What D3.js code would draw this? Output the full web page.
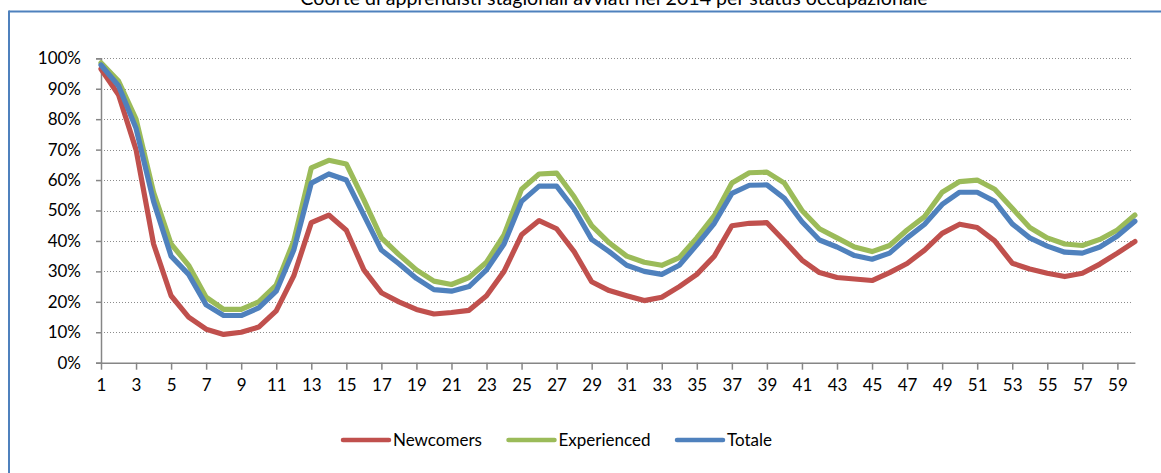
<!DOCTYPE html>
<html>
<head>
<meta charset="utf-8">
<script src="https://cdn.jsdelivr.net/npm/d3@7"></script>
<style>
  html, body { margin: 0; padding: 0; background: #fff; }
  svg { display: block; font-family: Lato, "Open Sans", sans-serif; }
</style>
</head>
<body>
<svg id="chart" width="1161" height="473"></svg>
<script>
// Months since start (1..60)
const months = d3.range(1, 61);

// Share of the cohort employed, in percent
const newcomers = [
  96.5, 88, 70, 39, 22, 15, 11, 9.3, 10, 11.7,
  17, 28.5, 46, 48.5, 43.5, 30.5, 23, 20, 17.5, 16,
  16.5, 17.2, 22, 30, 42, 46.7, 44, 36.5, 26.6, 23.7,
  22, 20.4, 21.5, 25, 29, 35, 45, 45.8, 46, 40,
  33.7, 29.6, 28, 27.5, 27, 29.6, 32.6, 37, 42.5, 45.5,
  44.4, 40, 32.7, 30.8, 29.4, 28.3, 29.4, 32.4, 36, 39.8
];
const experienced = [
  98.5, 92.5, 80, 56, 39, 32, 21.5, 17.5, 17.5, 20,
  25.5, 40, 64, 66.5, 65.3, 53.5, 41, 35.5, 30.5, 26.8,
  25.7, 28, 33, 42, 57, 62, 62.3, 54.5, 45, 39.4,
  35, 33, 32, 34.5, 41, 48.3, 59, 62.4, 62.6, 59,
  50, 44, 41, 38, 36.5, 38.5, 43.6, 48, 56, 59.5,
  60, 57, 50.7, 44.4, 41, 39, 38.5, 40.5, 43.6, 48.5
];
const totale = [
  97.8, 91, 77, 53, 35, 29, 19, 15.5, 15.5, 18,
  23.5, 37, 59, 62, 60, 48.5, 37, 32.5, 27.7, 24,
  23.5, 25, 30.5, 39, 53, 58, 58, 50.5, 40.5, 36.5,
  32, 30, 29, 32, 38.7, 45.8, 55.6, 58.3, 58.4, 54,
  46.3, 40.3, 38, 35.2, 34, 36, 41, 45.5, 52, 56,
  56, 53, 45.6, 41, 38.3, 36.3, 36, 38, 41.6, 46.5
];

const seriesNames = ["Newcomers", "Experienced", "Totale"];
const seriesColors = ["#C0504D", "#9BBB59", "#4F81BD"];
const yTicks = d3.range(0, 101, 10);
const xTickMonths = months.filter(m => m % 2 === 1);
const title = "Coorte di apprendisti stagionali avviati nel 2014 per status occupazionale";

const series = [newcomers, experienced, totale].map((vals, i) => ({
  name: seriesNames[i],
  color: seriesColors[i],
  values: vals.map((v, j) => ({ m: months[j], v }))
}));

const svg = d3.select("#chart");
const margin = { left: 101, right: 26, top: 58.3, bottom: 110.3 };
const W = 1161, H = 473;

const x = d3.scaleLinear().domain([1, 60]).range([margin.left, W - margin.right - 0.1]);
const y = d3.scaleLinear().domain([0, 100]).range([H - margin.bottom, margin.top]);

// Outer frame (top and left edges fall inside the page)
svg.append("line").attr("x1", 9).attr("x2", W).attr("y1", 11.5).attr("y2", 11.5)
  .attr("stroke", "#4F81BD").attr("stroke-width", 2);
svg.append("line").attr("x1", 9).attr("x2", 9).attr("y1", 10.5).attr("y2", H)
  .attr("stroke", "#4F81BD").attr("stroke-width", 2);

// Title above the frame, sized to span about 628px
const titleText = svg.append("text")
  .attr("x", 614).attr("y", 5)
  .attr("text-anchor", "middle")
  .attr("font-size", 16)
  .attr("fill", "#000")
  .text(title);
const tw = titleText.node().getComputedTextLength();
if (tw > 0) titleText.attr("font-size", 16 * 628 / tw);

// Dotted horizontal gridlines
svg.append("g")
  .selectAll("line")
  .data(yTicks.filter(t => t > 0))
  .join("line")
  .attr("x1", x(1)).attr("x2", x(60) - 2)
  .attr("y1", d => Math.round(y(d)) + 0.5).attr("y2", d => Math.round(y(d)) + 0.5)
  .attr("stroke", "#8C8C8C")
  .attr("stroke-width", 1)
  .attr("stroke-dasharray", "1,2");

// Y axis
const yAxis = d3.axisLeft(y)
  .tickValues(yTicks)
  .tickFormat(d => d + "%")
  .tickSize(5)
  .tickPadding(15);
const gy = svg.append("g").attr("transform", `translate(${x(1)},0)`).call(yAxis);
gy.select(".domain").attr("stroke", "#868686").attr("stroke-width", 1.5);
gy.selectAll(".tick line").attr("stroke", "#868686").attr("stroke-width", 1.5);
gy.selectAll(".tick text").attr("font-size", 17).attr("font-family", "Lato, sans-serif").attr("fill", "#000");

// X axis
const xAxis = d3.axisBottom(x)
  .tickValues(xTickMonths)
  .tickFormat(d3.format("d"))
  .tickSize(7)
  .tickSizeOuter(0)
  .tickPadding(9);
const gx = svg.append("g").attr("transform", `translate(0,${y(0)})`).call(xAxis);
gx.select(".domain").attr("stroke", "#868686").attr("stroke-width", 1.5);
gx.selectAll(".tick line").attr("stroke", "#868686").attr("stroke-width", 1.5);
gx.selectAll(".tick text").attr("font-size", 17).attr("font-family", "Lato, sans-serif").attr("fill", "#000");

// Series lines
const line = d3.line().x(d => x(d.m)).y(d => y(d.v));
svg.append("g")
  .selectAll("path")
  .data(series)
  .join("path")
  .attr("d", d => line(d.values))
  .attr("fill", "none")
  .attr("stroke", d => d.color)
  .attr("stroke-width", 5.2)
  .attr("stroke-linejoin", "round")
  .attr("stroke-linecap", "round");

// Legend
const legendX = [342, 507.5, 676];
const legend = svg.append("g")
  .selectAll("g")
  .data(series)
  .join("g")
  .attr("transform", (d, i) => `translate(${legendX[i]},440)`);
legend.append("line")
  .attr("x1", 1).attr("x2", 47)
  .attr("stroke", d => d.color)
  .attr("stroke-width", 4.5)
  .attr("stroke-linecap", "round");
legend.append("text")
  .attr("x", 51).attr("y", 6)
  .attr("font-size", 17)
  .attr("fill", "#000")
  .text(d => d.name);
</script>
</body>
</html>
